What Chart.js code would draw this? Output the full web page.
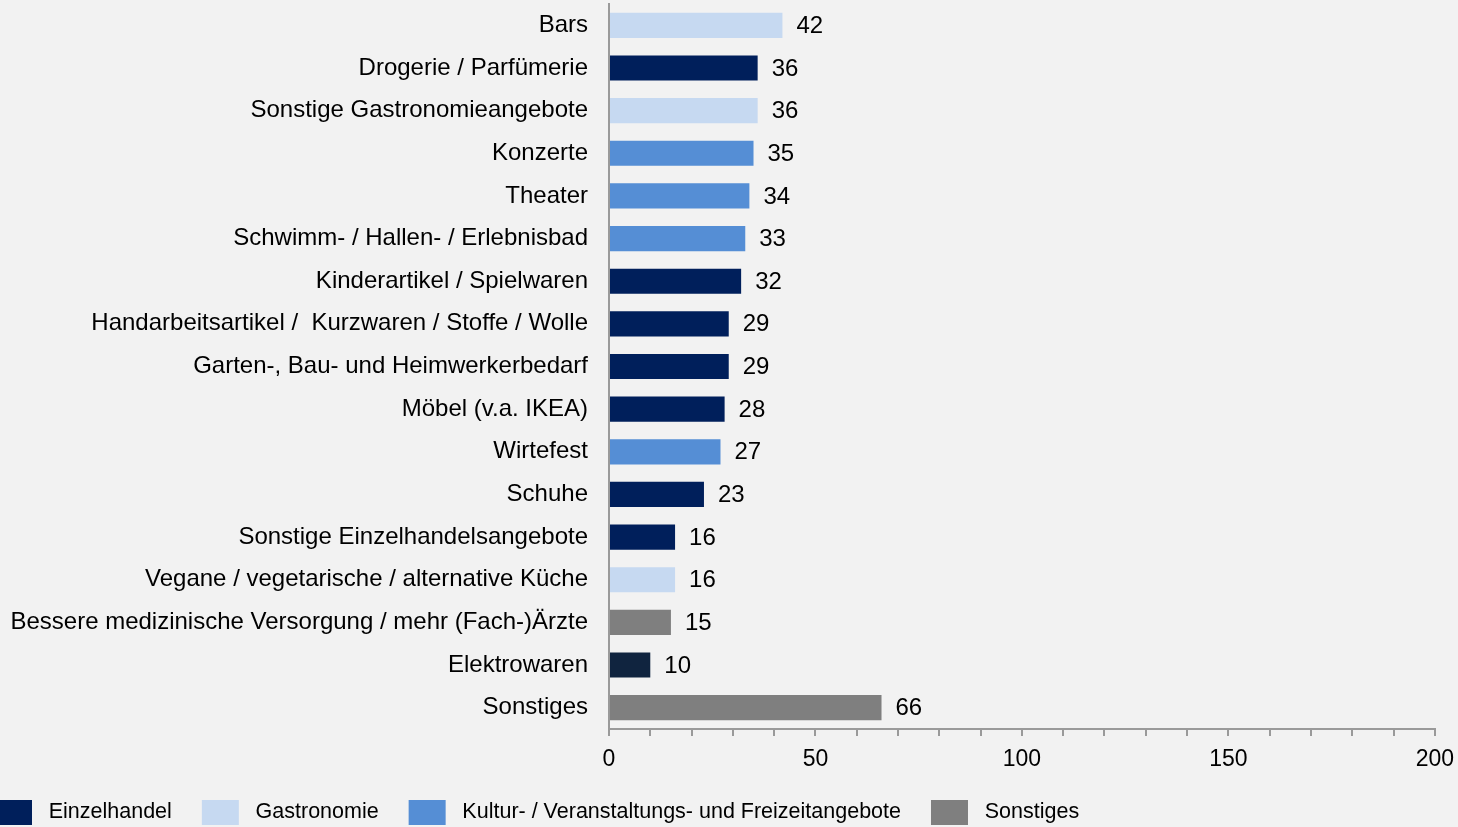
<!DOCTYPE html>
<html>
<head>
<meta charset="utf-8">
<script src="https://cdn.jsdelivr.net/npm/chart.js@4/dist/chart.umd.min.js"></script>
<style>
  html, body { margin: 0; padding: 0; background: #f2f2f2; overflow: hidden; }
  #wrap { width: 1458px; height: 835px; position: relative; }
</style>
</head>
<body>
<div id="wrap"><canvas id="myChart"></canvas></div>
<script>
// Kategorien (von oben nach unten)
const kategorien = [
  "Bars",
  "Drogerie / Parfümerie",
  "Sonstige Gastronomieangebote",
  "Konzerte",
  "Theater",
  "Schwimm- / Hallen- / Erlebnisbad",
  "Kinderartikel / Spielwaren",
  "Handarbeitsartikel /  Kurzwaren / Stoffe / Wolle",
  "Garten-, Bau- und Heimwerkerbedarf",
  "Möbel (v.a. IKEA)",
  "Wirtefest",
  "Schuhe",
  "Sonstige Einzelhandelsangebote",
  "Vegane / vegetarische / alternative Küche",
  "Bessere medizinische Versorgung / mehr (Fach-)Ärzte",
  "Elektrowaren",
  "Sonstiges"
];
const werte = [42, 36, 36, 35, 34, 33, 32, 29, 29, 28, 27, 23, 16, 16, 15, 10, 66];
const gruppen = [
  "Gastronomie", "Einzelhandel", "Gastronomie", "Kultur", "Kultur", "Kultur",
  "Einzelhandel", "Einzelhandel", "Einzelhandel", "Einzelhandel", "Kultur",
  "Einzelhandel", "Einzelhandel", "Gastronomie", "Sonstiges", "Einzelhandel", "Sonstiges"
];
const legendeGruppen = ["Einzelhandel", "Gastronomie", "Kultur", "Sonstiges"];
const legendeTexte = ["Einzelhandel", "Gastronomie", "Kultur- / Veranstaltungs- und Freizeitangebote", "Sonstiges"];
const xTicks = [0, 50, 100, 150, 200];

const farben = {
  Einzelhandel: "#001f5b",
  Gastronomie: "#c6d9f1",
  Kultur: "#558ed5",
  Sonstiges: "#7f7f7f"
};
// Elektrowaren ist im Original etwas dunkler eingefärbt
const barFarben = kategorien.map((k, i) => k === "Elektrowaren" ? "#10243f" : farben[gruppen[i]]);

const fontName = "'Liberation Sans', Arial, sans-serif";

// Werte rechts neben den Balken
const wertLabels = {
  id: "wertLabels",
  afterDatasetsDraw(chart) {
    const ctx = chart.ctx;
    const meta = chart.getDatasetMeta(0);
    ctx.save();
    ctx.font = "24px " + fontName;
    ctx.fillStyle = "#000";
    ctx.textAlign = "left";
    ctx.textBaseline = "middle";
    meta.data.forEach((bar, i) => {
      ctx.fillText(String(werte[i]), bar.x + 14, bar.y + 1);
    });
    ctx.restore();
  }
};

new Chart(document.getElementById("myChart"), {
  type: "bar",
  data: {
    labels: kategorien,
    datasets: [{
      data: werte,
      backgroundColor: barFarben,
      categoryPercentage: 0.59,
      barPercentage: 1
    }]
  },
  options: {
    indexAxis: "y",
    responsive: true,
    maintainAspectRatio: false,
    animation: false,
    layout: { padding: { top: 4, right: 23, left: -35, bottom: 0 } },
    scales: {
      x: {
        min: 0, max: 200,
        afterFit: (scale) => { scale.height = 41; },
        ticks: {
          stepSize: 10,
          autoSkip: false,
          maxRotation: 0,
          color: "#000",
          padding: 4,
          font: { size: 23, family: fontName, lineHeight: 1.72 },
          callback: (v) => xTicks.includes(v) ? String(v) : ""
        },
        grid: { drawOnChartArea: false, drawTicks: true, tickLength: 7, color: "#9a9a9a", lineWidth: 2 },
        border: { color: "#9a9a9a", width: 2 }
      },
      y: {
        afterFit: (scale) => { scale.width = 644; },
        ticks: {
          color: "#000",
          padding: 0,
          font: { size: 24, family: fontName, lineHeight: 0.3 },
          autoSkip: false
        },
        // unsichtbare Tick-Striche als Abstand zwischen Text und Achse
        grid: { display: true, drawOnChartArea: false, drawTicks: true, tickLength: 21, color: "rgba(0,0,0,0)" },
        border: { color: "#9a9a9a", width: 2 }
      }
    },
    plugins: {
      tooltip: { enabled: false },
      legend: {
        position: "bottom",
        align: "start",
        labels: {
          boxWidth: 37,
          boxHeight: 25,
          padding: 30,
          color: "#000",
          font: { size: 21.5, family: fontName },
          generateLabels: () => legendeGruppen.map((g, i) => ({
            text: " " + legendeTexte[i],
            fillStyle: farben[g],
            strokeStyle: farben[g],
            lineWidth: 0,
            hidden: false,
            datasetIndex: 0
          }))
        }
      }
    }
  },
  plugins: [wertLabels]
});
</script>
</body>
</html>
